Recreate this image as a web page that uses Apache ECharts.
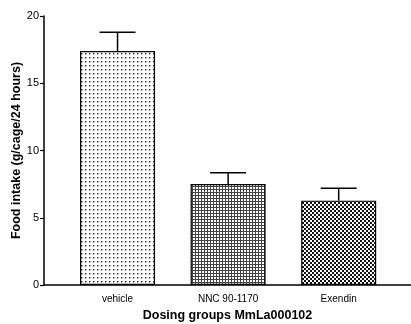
<!DOCTYPE html>
<html>
<head>
<meta charset="utf-8">
<script src="https://cdn.jsdelivr.net/npm/echarts@6/dist/echarts.min.js"></script>
<style>html,body{margin:0;padding:0;background:#fff}#c{width:411px;height:324px}</style>
</head>
<body>
<div id="c"></div>
<script>
const categories = ['vehicle', 'NNC 90-1170', 'Exendin'];
const means = [17.4, 7.5, 6.27];
const sem = [1.4, 0.85, 0.92];
const yTicks = [0, 5, 10, 15, 20];

function makePattern(kind) {
  const c = document.createElement('canvas');
  const ctx = c.getContext('2d');
  if (kind === 0) {
    c.width = 4; c.height = 4;
    ctx.fillStyle = '#fff'; ctx.fillRect(0, 0, 4, 4);
    ctx.fillStyle = '#222'; ctx.fillRect(1, 1, 1.4, 1.4);
  } else if (kind === 1) {
    c.width = 3; c.height = 3;
    ctx.fillStyle = '#fff'; ctx.fillRect(0, 0, 3, 3);
    ctx.fillStyle = '#444'; ctx.fillRect(0, 0, 3, 1); ctx.fillRect(0, 0, 1, 3);
  } else {
    c.width = 4; c.height = 4;
    ctx.fillStyle = '#fff'; ctx.fillRect(0, 0, 4, 4);
    ctx.fillStyle = '#111'; ctx.fillRect(0, 0, 2, 2); ctx.fillRect(2, 2, 2, 2);
  }
  return { image: c, repeat: 'repeat' };
}

const chart = echarts.init(document.getElementById('c'), null, { renderer: 'canvas' });
const barData = means.map((v, i) => ({
  value: [i, v],
  itemStyle: { color: makePattern(i), borderColor: '#000', borderWidth: 1.2 }
}));
const errData = means.map((v, i) => [i, v, v + sem[i]]);
const font = 'Liberation Sans, Arial, sans-serif';

chart.setOption({
  animation: false,
  backgroundColor: '#fff',
  grid: { left: 44, right: 0, top: 16, bottom: 39, outerBoundsMode: 'none', containLabel: false },
  xAxis: {
    type: 'value', min: -0.665, max: 2.654,
    splitLine: { show: false },
    axisLine: { show: true, onZero: false, lineStyle: { color: '#000', width: 1.5 } },
    axisTick: { show: false },
    axisLabel: {
      customValues: [0, 1, 2],
      formatter: v => categories[Math.round(v)],
      color: '#000', fontSize: 10, fontFamily: font, margin: 9
    },
    name: 'Dosing groups MmLa000102', nameLocation: 'middle', nameGap: 20,
    nameTextStyle: { color: '#000', fontSize: 12.5, fontWeight: 'bold', fontFamily: font }
  },
  yAxis: {
    type: 'value', min: 0, max: 20, interval: 5,
    splitLine: { show: false },
    axisLine: { show: true, onZero: false, lineStyle: { color: '#000', width: 1.5 } },
    axisTick: { show: true, inside: false, length: 4, lineStyle: { color: '#000', width: 1.2 } },
    axisLabel: {
      formatter: v => yTicks.includes(v) ? String(v) : '',
      color: '#000', fontSize: 11, fontFamily: font, margin: 5
    },
    name: 'Food intake (g/cage/24 hours)', nameLocation: 'middle', nameGap: 21,
    nameMoveOverlap: false,
    nameTextStyle: { color: '#000', fontSize: 12.5, fontWeight: 'bold', fontFamily: font }
  },
  series: [
    { type: 'bar', data: barData, barWidth: 75 },
    {
      type: 'custom',
      data: errData,
      renderItem: function (params, api) {
        const x = api.value(0);
        const top = api.coord([x, api.value(2)]);
        const base = api.coord([x, api.value(1)]);
        const hw = 18;
        return {
          type: 'group',
          children: [
            { type: 'line', shape: { x1: top[0], y1: base[1], x2: top[0], y2: top[1] }, style: { stroke: '#000', lineWidth: 1.5 } },
            { type: 'line', shape: { x1: top[0] - hw, y1: top[1], x2: top[0] + hw, y2: top[1] }, style: { stroke: '#000', lineWidth: 1.5 } }
          ]
        };
      },
      z: 3
    }
  ]
});
</script>
</body>
</html>
